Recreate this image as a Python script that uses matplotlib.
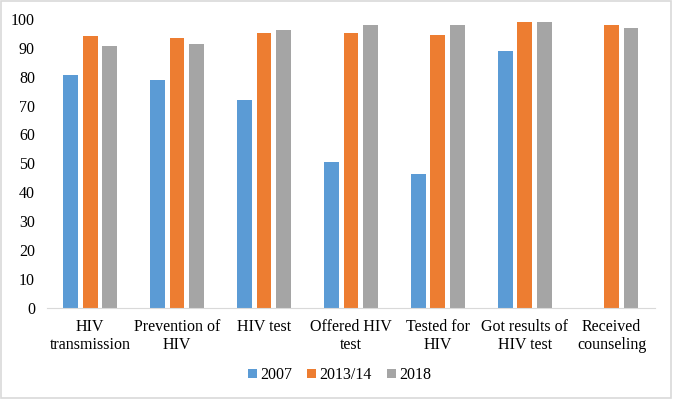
import matplotlib
matplotlib.use("Agg")
import matplotlib.pyplot as plt
import numpy as np
from matplotlib.patches import Rectangle

categories = ["HIV\ntransmission", "Prevention of\nHIV", "HIV test", "Offered HIV\ntest",
              "Tested for\nHIV", "Got results of\nHIV test", "Received\ncounseling"]
series_names = ["2007", "2013/14", "2018"]
v2007 = [80.5, 79.0, 72.0, 50.3, 46.3, 89.0, np.nan]
v2013 = [94.0, 93.4, 95.3, 95.1, 94.3, 99.0, 98.0]
v2018 = [90.7, 91.2, 96.2, 98.0, 98.0, 99.0, 97.0]
colors = ["#5B9BD5", "#ED7D31", "#A5A5A5"]
yticks = [0, 10, 20, 30, 40, 50, 60, 70, 80, 90, 100]

plt.rcParams['font.family'] = ['Liberation Serif', 'DejaVu Serif']

fig = plt.figure(figsize=(6.73, 3.99), dpi=100)
fig.patches.append(Rectangle((0.002, 0.003), 0.995, 0.994, transform=fig.transFigure,
                             fill=False, edgecolor="#D9D9D9", linewidth=1.2))
ax = fig.add_axes([0.0694, 0.2293, 0.904, 0.7231])
x = np.arange(len(categories))
w = 0.169
step = 0.224
for i, (vals, name, c) in enumerate(zip([v2007, v2013, v2018], series_names, colors)):
    ax.bar(x + (i - 1) * step, vals, width=w, color=c, label=name)

ax.set_xlim(-0.5, len(categories) - 0.5)
ax.set_ylim(0, 100)
ax.set_yticks(yticks)
ax.set_xticks(x)
ax.set_xticklabels(categories, fontsize=11.5, linespacing=1.22)
ax.tick_params(axis='y', labelsize=11.5, length=0, pad=8.5)
ax.tick_params(axis='x', length=0, pad=8)
for s in ['top', 'right', 'left']:
    ax.spines[s].set_visible(False)
ax.spines['bottom'].set_color("#D9D9D9")

ax.legend(loc='center', bbox_to_anchor=(0.5045, 0.0602), bbox_transform=fig.transFigure,
          ncol=3, frameon=False, fontsize=11.5, handlelength=0.55, handleheight=0.55,
          handletextpad=0.2, columnspacing=0.95)

fig.savefig("out.png", dpi=100)
